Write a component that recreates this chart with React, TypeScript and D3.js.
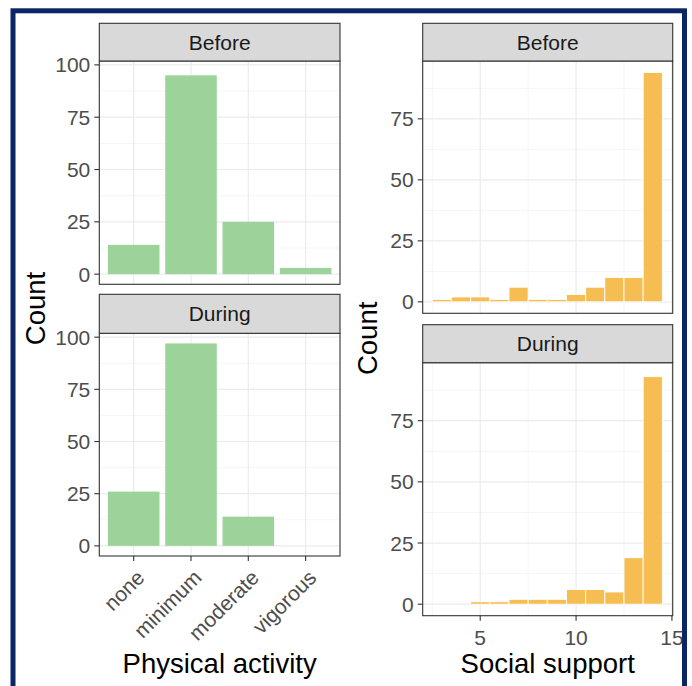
import React from 'react';
import * as d3 from 'd3';

const periods = ['Before', 'During'];
const activityLevels = ['none', 'minimum', 'moderate', 'vigorous'];
const activityBefore = [14, 95, 25, 3];
const activityDuring = [26, 97, 14, 0];
const supportScores = [3, 4, 5, 6, 7, 8, 9, 10, 11, 12, 13, 14];
const supportBefore = [1, 2, 2, 1, 6, 1, 1, 3, 6, 10, 10, 94];
const supportDuring = [0, 0, 1, 1, 2, 2, 2, 6, 6, 5, 19, 93];
const activityYTicks = [0, 25, 50, 75, 100];
const supportYTicks = [0, 25, 50, 75];
const supportXTicks = [5, 10, 15];
const supportXDomain = [2.0, 15.04];

const FONT = '"Liberation Sans", Arial, sans-serif';
const GREEN = '#9cd39b';
const ORANGE = '#f5bd52';
const GRID = '#ebebeb';
const GRID_MINOR = '#f3f3f3';
const DARK = '#333333';
const TICK_TXT = '#4d4d4d';
const TITLE_SIZE = 27.5;

type PanelBox = { strip: number; top: number; bottom: number };

const leftX0 = 99.3, leftX1 = 340;
const rightX0 = 422.7, rightX1 = 672.7;
const leftPanels: PanelBox[] = [
  { strip: 23.3, top: 61, bottom: 284.3 },
  { strip: 294.3, top: 333.3, bottom: 556 },
];
const rightPanels: PanelBox[] = [
  { strip: 23.3, top: 61, bottom: 313.3 },
  { strip: 324.7, top: 362.7, bottom: 615.7 },
];

function Strip({ x0, x1, box, label }: { x0: number; x1: number; box: PanelBox; label: string }) {
  return (
    <g>
      <rect x={x0} y={box.strip} width={x1 - x0} height={box.top - box.strip} fill="#d9d9d9" stroke={DARK} strokeWidth={1.1} />
      <text x={(x0 + x1) / 2} y={(box.strip + box.top) / 2} dy="0.36em" textAnchor="middle" fontSize={21} fill="#1a1a1a" fontFamily={FONT}>
        {label}
      </text>
    </g>
  );
}

function YAxis({ x0, y, ticks }: { x0: number; y: d3.ScaleLinear<number, number>; ticks: number[] }) {
  return (
    <g>
      {ticks.map((t) => (
        <g key={t}>
          <line x1={x0 - 5} x2={x0} y1={y(t)} y2={y(t)} stroke={DARK} strokeWidth={1.1} />
          <text x={x0 - 9} y={y(t)} dy="0.36em" textAnchor="end" fontSize={21} fill={TICK_TXT} fontFamily={FONT}>
            {t}
          </text>
        </g>
      ))}
    </g>
  );
}

function ActivityPanel({ box, values, label, showX }: { box: PanelBox; values: number[]; label: string; showX: boolean }) {
  const maxV = d3.max([...activityBefore, ...activityDuring]) as number;
  const y = d3.scaleLinear().domain([-0.05 * maxV, 1.05 * maxV]).range([box.bottom, box.top]);
  const x = d3.scaleBand<string>().domain(activityLevels).range([leftX0, leftX1]).paddingInner(0.1).paddingOuter(0.15);
  const minor = activityYTicks.slice(0, -1).map((t, i) => (t + activityYTicks[i + 1]) / 2);
  const center = (c: string) => (x(c) as number) + x.bandwidth() / 2;
  return (
    <g>
      <rect x={leftX0} y={box.top} width={leftX1 - leftX0} height={box.bottom - box.top} fill="white" />
      {minor.map((t) => (
        <line key={'m' + t} x1={leftX0} x2={leftX1} y1={y(t)} y2={y(t)} stroke={GRID_MINOR} strokeWidth={0.8} />
      ))}
      {activityYTicks.map((t) => (
        <line key={'g' + t} x1={leftX0} x2={leftX1} y1={y(t)} y2={y(t)} stroke={GRID} strokeWidth={1.2} />
      ))}
      {activityLevels.map((c) => (
        <line key={'v' + c} x1={center(c)} x2={center(c)} y1={box.top} y2={box.bottom} stroke={GRID} strokeWidth={1.2} />
      ))}
      {activityLevels.map((c, i) =>
        values[i] > 0 ? (
          <rect key={'b' + c} x={x(c)} y={y(values[i])} width={x.bandwidth()} height={y(0) - y(values[i])} fill={GREEN} />
        ) : null
      )}
      <rect x={leftX0} y={box.top} width={leftX1 - leftX0} height={box.bottom - box.top} fill="none" stroke={DARK} strokeWidth={1.1} />
      <Strip x0={leftX0} x1={leftX1} box={box} label={label} />
      <YAxis x0={leftX0} y={y} ticks={activityYTicks} />
      {showX &&
        activityLevels.map((c) => (
          <g key={'xt' + c}>
            <line x1={center(c)} x2={center(c)} y1={box.bottom} y2={box.bottom + 5} stroke={DARK} strokeWidth={1.1} />
            <text
              transform={`translate(${center(c) + 12},${box.bottom + 23}) rotate(-45)`}
              textAnchor="end"
              fontSize={21}
              fill={TICK_TXT}
              fontFamily={FONT}
            >
              {c}
            </text>
          </g>
        ))}
    </g>
  );
}

function SupportPanel({ box, values, label, showX }: { box: PanelBox; values: number[]; label: string; showX: boolean }) {
  const maxV = d3.max([...supportBefore, ...supportDuring]) as number;
  const y = d3.scaleLinear().domain([-0.05 * maxV, 1.05 * maxV]).range([box.bottom, box.top]);
  const x = d3.scaleLinear().domain(supportXDomain).range([rightX0, rightX1]);
  const minorY = supportYTicks.map((t) => t + 12.5);
  const minorX = [2.5, 7.5, 12.5];
  return (
    <g>
      <rect x={rightX0} y={box.top} width={rightX1 - rightX0} height={box.bottom - box.top} fill="white" />
      {minorY.map((t) => (
        <line key={'m' + t} x1={rightX0} x2={rightX1} y1={y(t)} y2={y(t)} stroke={GRID_MINOR} strokeWidth={0.8} />
      ))}
      {minorX.map((t) => (
        <line key={'mx' + t} x1={x(t)} x2={x(t)} y1={box.top} y2={box.bottom} stroke={GRID_MINOR} strokeWidth={0.8} />
      ))}
      {supportYTicks.map((t) => (
        <line key={'g' + t} x1={rightX0} x2={rightX1} y1={y(t)} y2={y(t)} stroke={GRID} strokeWidth={1.2} />
      ))}
      {supportXTicks.map((t) => (
        <line key={'gx' + t} x1={x(t)} x2={x(t)} y1={box.top} y2={box.bottom} stroke={GRID} strokeWidth={1.2} />
      ))}
      {supportScores.map((s, i) =>
        values[i] > 0 ? (
          <rect
            key={'b' + s}
            x={x(s - 0.5)}
            y={y(values[i])}
            width={x(s + 0.5) - x(s - 0.5)}
            height={y(0) - y(values[i])}
            fill={ORANGE}
            stroke="white"
            strokeWidth={0.9}
          />
        ) : null
      )}
      <rect x={rightX0} y={box.top} width={rightX1 - rightX0} height={box.bottom - box.top} fill="none" stroke={DARK} strokeWidth={1.1} />
      <Strip x0={rightX0} x1={rightX1} box={box} label={label} />
      <YAxis x0={rightX0} y={y} ticks={supportYTicks} />
      {showX &&
        supportXTicks.map((t) => (
          <g key={'xt' + t}>
            <line x1={x(t)} x2={x(t)} y1={box.bottom} y2={box.bottom + 5} stroke={DARK} strokeWidth={1.1} />
            <text x={x(t)} y={box.bottom + 29} textAnchor="middle" fontSize={21} fill={TICK_TXT} fontFamily={FONT}>
              {t}
            </text>
          </g>
        ))}
    </g>
  );
}

export default function App() {
  const activitySeries = [activityBefore, activityDuring];
  const supportSeries = [supportBefore, supportDuring];
  return (
    <svg width={692} height={686} style={{ position: 'absolute', left: 0, top: 0, background: 'white' }} fontFamily={FONT}>
      <rect x={0} y={0} width={692} height={686} fill="white" />
      {periods.map((p, i) => (
        <ActivityPanel key={'a' + p} box={leftPanels[i]} values={activitySeries[i]} label={p} showX={i === 1} />
      ))}
      {periods.map((p, i) => (
        <SupportPanel key={'s' + p} box={rightPanels[i]} values={supportSeries[i]} label={p} showX={i === 1} />
      ))}
      <text
        transform={`translate(45,${(leftPanels[0].top + leftPanels[1].bottom) / 2}) rotate(-90)`}
        textAnchor="middle"
        fontSize={TITLE_SIZE}
        fill="black"
        fontFamily={FONT}
      >
        Count
      </text>
      <text
        transform={`translate(377,${(rightPanels[0].top + rightPanels[1].bottom) / 2}) rotate(-90)`}
        textAnchor="middle"
        fontSize={TITLE_SIZE}
        fill="black"
        fontFamily={FONT}
      >
        Count
      </text>
      <text x={(leftX0 + leftX1) / 2} y={673.3} textAnchor="middle" fontSize={TITLE_SIZE} fill="black" fontFamily={FONT}>
        Physical activity
      </text>
      <text x={(rightX0 + rightX1) / 2} y={673.3} textAnchor="middle" fontSize={TITLE_SIZE} fill="black" fontFamily={FONT}>
        Social support
      </text>
      <rect x={13} y={10.8} width={671.5} height={700} fill="none" stroke="#0b2566" strokeWidth={5} />
    </svg>
  );
}
